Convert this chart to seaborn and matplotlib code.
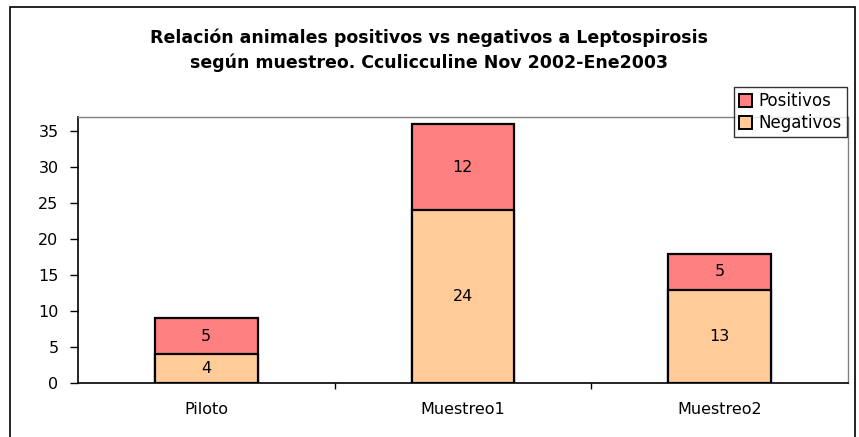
import matplotlib
matplotlib.use("Agg")
import matplotlib.pyplot as plt
import seaborn as sns
import pandas as pd
from matplotlib.patches import Rectangle, Patch

categorias = ["Piloto", "Muestreo1", "Muestreo2"]
negativos = [4, 24, 13]
positivos = [5, 12, 5]

titulo = ("Relación animales positivos vs negativos a Leptospirosis\n"
          "según muestreo. Cculicculine Nov 2002-Ene2003")

COLOR_POS = "#FF8080"
COLOR_NEG = "#FFCC99"

sns.set_theme(style="white")
plt.rcParams["font.family"] = ["DejaVu Sans"]
plt.rcParams["text.color"] = "black"
plt.rcParams["xtick.color"] = "black"
plt.rcParams["ytick.color"] = "black"

df = pd.DataFrame({
    "categoria": categorias,
    "negativos": negativos,
    "positivos": positivos,
})
df["total"] = df["negativos"] + df["positivos"]

fig = plt.figure(figsize=(8.59, 4.37), dpi=100)
ax = fig.add_axes([0.0908, 0.1236, 0.8962, 0.6087])

sns.barplot(data=df, x="categoria", y="total", color=COLOR_POS, width=0.4,
            edgecolor="black", linewidth=1.6, saturation=1, ax=ax)
sns.barplot(data=df, x="categoria", y="negativos", color=COLOR_NEG, width=0.4,
            edgecolor="black", linewidth=1.6, saturation=1, ax=ax)

# value labels in the middle of each segment
for i, row in df.iterrows():
    ax.text(i, row["negativos"] / 2, str(row["negativos"]),
            ha="center", va="center", fontsize=11.5, color="black")
    ax.text(i, row["negativos"] + row["positivos"] / 2, str(row["positivos"]),
            ha="center", va="center", fontsize=11.5, color="black")

ax.set_xlim(-0.5, 2.5)
ax.set_ylim(0, 37)
ax.set_yticks(range(0, 36, 5))
ax.set_xlabel("")
ax.set_ylabel("")

ax.tick_params(axis="y", direction="out", length=6, width=1, color="black",
               labelsize=11.5, labelcolor="black", pad=8, left=True)
ax.tick_params(axis="x", which="major", length=0, labelsize=11.5,
               labelcolor="black", pad=14)
ax.set_xticks([0.5, 1.5], minor=True)
ax.tick_params(axis="x", which="minor", direction="out", length=4, width=1,
               color="black", bottom=True)

for side in ["left", "bottom"]:
    ax.spines[side].set_color("black")
    ax.spines[side].set_linewidth(1.2)
for side in ["top", "right"]:
    ax.spines[side].set_visible(True)
    ax.spines[side].set_color("#808080")
    ax.spines[side].set_linewidth(1.0)

fig.text(0.5, 0.885, titulo, ha="center", va="center", fontsize=12.5,
         fontweight="bold", linespacing=1.45, color="black")

handles = [Patch(facecolor=COLOR_POS, edgecolor="black", linewidth=1.4, label="Positivos"),
           Patch(facecolor=COLOR_NEG, edgecolor="black", linewidth=1.4, label="Negativos")]
leg = fig.legend(handles=handles, loc="upper right", bbox_to_anchor=(847 / 859, 1 - 87 / 437),
                 frameon=True, fancybox=False, shadow=False, fontsize=12,
                 handlelength=0.8, handleheight=0.8, handletextpad=0.4,
                 borderpad=0.3, labelspacing=0.25, borderaxespad=0)
leg.get_frame().set_edgecolor("black")
leg.get_frame().set_linewidth(1.0)
for t in leg.get_texts():
    t.set_color("black")

# outer chart border
fig.patches.append(Rectangle((10 / 859, -0.02), 845 / 859, 1.02 - 7 / 437,
                             transform=fig.transFigure, fill=False,
                             edgecolor="black", linewidth=1.2))

fig.savefig("out.png", dpi=100)
